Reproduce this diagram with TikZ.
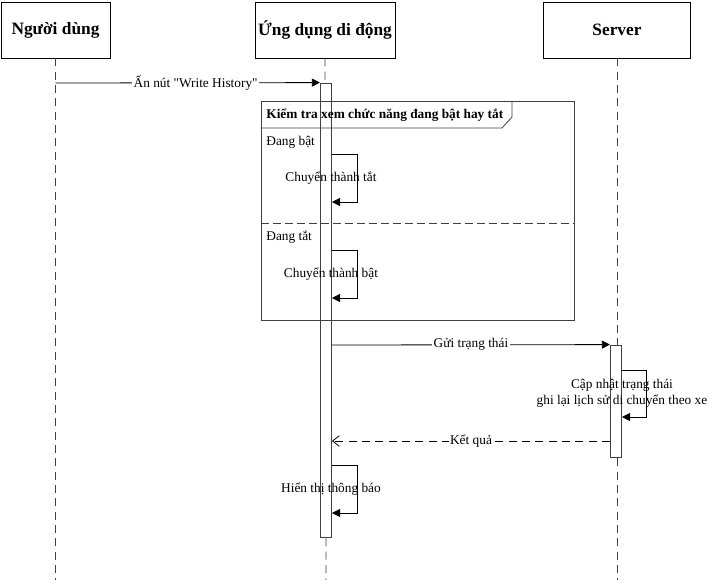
\documentclass[tikz,border=0pt]{standalone}
\usepackage{fontspec}
\setmainfont{Liberation Serif}[Ligatures=TeXOff]
\usetikzlibrary{arrows.meta,calc}

\tikzset{
  head/.style={draw, fill=white, minimum width=#1*0.75pt, minimum height=42pt,
    inner sep=0pt, font=\bfseries\fontsize{13}{15}\selectfont},
  lifeline/.style={draw=black!75, dash pattern=on 6pt off 4pt},
  bar/.style={draw=black!75, fill=white, minimum width=8.5pt, inner sep=0pt},
  msg/.style={-{Triangle[length=6pt,width=6pt]}},
  reply/.style={dash pattern=on 6pt off 4pt, -{Straight Barb[length=5pt,width=8pt]}},
  lbl/.style={fill=white, inner sep=1pt, font=\fontsize{10}{12}\selectfont},
}

\begin{document}
\begin{tikzpicture}[x=0.75pt,y=-0.75pt,line width=0.6pt]
     \useasboundingbox (0,0) rectangle (715,588);

     %đối tượng
     \node[head=109] (user) at (55.5,30) {Người dùng};
     \node[head=140] (app)  at (325,30)  {Ứng dụng di động};
     \node[head=147] (srv)  at (617,30)  {Server};

     \coordinate (userEnd) at (55.5,580);
     \coordinate (appEnd)  at (326,580);
     \coordinate (srvEnd)  at (617,580);
     \draw[lifeline] (user.south) -- (userEnd);
     \draw[lifeline] (app.south) -- (appEnd);
     \draw[lifeline] (srv.south) -- (srvEnd);

     %thanh kích hoạt
     \node[bar, minimum height=340.5pt] (appBar) at (326,310) {};
     \node[bar, minimum height=84pt]    (srvBar) at (616,401) {};

     %khung kiểm tra
     \coordinate (frTL) at (261,101);
     \coordinate (frBR) at (574,320);
     \draw[draw=black!75] (frTL) rectangle (frBR);
     \draw[draw=black!75] (261,128) -- (502,128) -- (512,117) -- (512,101);
     \node[anchor=west, inner sep=0pt, font=\bfseries\fontsize{10}{12}\selectfont] (frLbl)
       at (266,115) {Kiểm tra xem chức năng đang bật hay tắt};
     \draw[draw=black!75, dash pattern=on 6pt off 3pt] (261,223) -- (574,223);
     \node[anchor=west, inner sep=0pt, font=\fontsize{10}{12}\selectfont] (on)  at (266,142) {Đang bật};
     \node[anchor=west, inner sep=0pt, font=\fontsize{10}{12}\selectfont] (off) at (266,237) {Đang tắt};

     %thông điệp
     \coordinate (m1) at (55.5,83);
     \draw[msg] (m1) -- (appBar.north west)
       node[lbl, pos=0.53] (m1Lbl) {Ấn nút "Write History"};

     \foreach \y/\t/\n in {154/Chuyển thành tắt/s1, 250/Chuyển thành bật/s2, 465/Hiển thị thông báo/s3} {
       \coordinate (\n a) at (332,\y);
       \coordinate (\n b) at (332,\y+48);
       \draw[msg] (\n a) -- ++(25,0) |- (\n b);
       \node[lbl, fill=none] (\n Lbl) at (331,\y+24) {\t};
     }

     \coordinate (m2) at (332,345);
     \draw[msg] (m2) -- (srvBar.north west)
       node[lbl, pos=0.5] (m2Lbl) {Gửi trạng thái};

     \coordinate (s4a) at (622,370);
     \coordinate (s4b) at (622,417);
     \draw[msg] (s4a) -- ++(24,0) |- (s4b);
     \node[lbl, fill=none, align=center] (s4Lbl) at (622,393)
       {Cập nhật trạng thái\\ghi lại lịch sử di chuyển theo xe};

     \coordinate (m3s) at (610,441);
     \coordinate (m3e) at (332,441);
     \draw[reply] (m3s) -- (m3e)
       node[lbl, pos=0.5] (m3Lbl) {Kết quả};

\end{tikzpicture}
\end{document}
